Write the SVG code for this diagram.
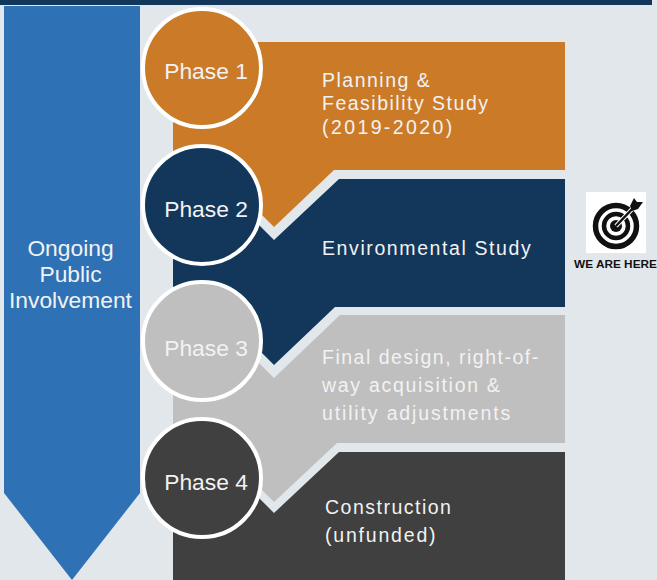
<svg xmlns="http://www.w3.org/2000/svg" width="657" height="580" viewBox="0 0 657 580">
<style>
text{font-family:"Liberation Sans",Arial,sans-serif;fill:#f2f2f2}
.ph{font-size:22.800px;text-anchor:middle}
.d{font-size:19.500px;letter-spacing:1.500px}
.o{font-size:22.800px;text-anchor:middle}
.c{stroke:#fff;stroke-width:4}
</style>
<rect width="657" height="580" fill="#e2e7ec"/>
<rect width="652" height="5" fill="#12375b"/>
<g id="public-involvement">
<polygon points="4,6 140,6 140,493 72,580 4,493" fill="#2e71b5"/>
<text class="o" x="70.500" y="256">Ongoing</text>
<text class="o" x="70.500" y="282">Public</text>
<text class="o" x="70.500" y="308">Involvement</text>
</g>
<g id="band-4">
<polygon points="173,451 224,463 274,513 339,452 565,452 565,580 173,580" fill="#404040"/>
<text class="d" x="325" y="514">Construction</text>
<text class="d" x="325" y="542" style="letter-spacing:1.800px">(unfunded)</text>
</g>
<g id="band-3">
<polygon points="173,316 224,328 274,378 340,315 565,315 565,443 337,443 274,502 224,452 173,440" fill="#bfbfbf"/>
<text class="d" x="322" y="364">Final design, right-of-</text>
<text class="d" x="322" y="392" style="letter-spacing:1.700px">way acquisition &amp;</text>
<text class="d" x="322" y="420" style="letter-spacing:1.850px">utility adjustments</text>
</g>
<g id="band-2">
<polygon points="173,178 224,190 274,240 339,179 565,179 565,307 335,307 274,365 224,315 173,303" fill="#12375b"/>
<text class="d" x="322" y="255" style="letter-spacing:1.600px">Environmental Study</text>
</g>
<g id="band-1">
<polygon points="173,42 565,42 565,170 334,170 274,227 224,177 173,165" fill="#cb7a28"/>
<text class="d" x="322" y="87">Planning &amp;</text>
<text class="d" x="322" y="110">Feasibility Study</text>
<text class="d" x="322" y="134" style="letter-spacing:2.400px">(2019-2020)</text>
</g>
<g id="phase-1"><circle class="c" cx="202" cy="68" r="59" fill="#cb7a28"/><text class="ph" x="206" y="79">Phase 1</text></g>
<g id="phase-2"><circle class="c" cx="202" cy="205" r="59" fill="#12375b"/><text class="ph" x="206" y="217">Phase 2</text></g>
<g id="phase-3"><circle class="c" cx="202" cy="341" r="59" fill="#bfbfbf"/><text class="ph" x="206" y="356">Phase 3</text></g>
<g id="phase-4"><circle class="c" cx="202" cy="478" r="59" fill="#404040"/><text class="ph" x="206" y="490">Phase 4</text></g>
<g id="we-are-here">
<rect x="586" y="192" width="60" height="61" fill="#fff"/>
<circle cx="616" cy="226" r="20.500" fill="none" stroke="#111" stroke-width="5.500"/>
<circle cx="616" cy="226" r="12" fill="none" stroke="#111" stroke-width="4.500"/>
<circle cx="616" cy="226" r="6" fill="#111"/>
<path d="M616 226L636 205" stroke="#fff" stroke-width="4.500"/>
<path d="M616 226L636 205" stroke="#111" stroke-width="2.500"/>
<polygon points="630,206 634,198 637,202 643,202 638,209 632,211" fill="#111"/>
<text x="615.500" y="268" font-size="11.800" font-weight="bold" text-anchor="middle" style="fill:#111">WE ARE HERE</text>
</g>
</svg>
